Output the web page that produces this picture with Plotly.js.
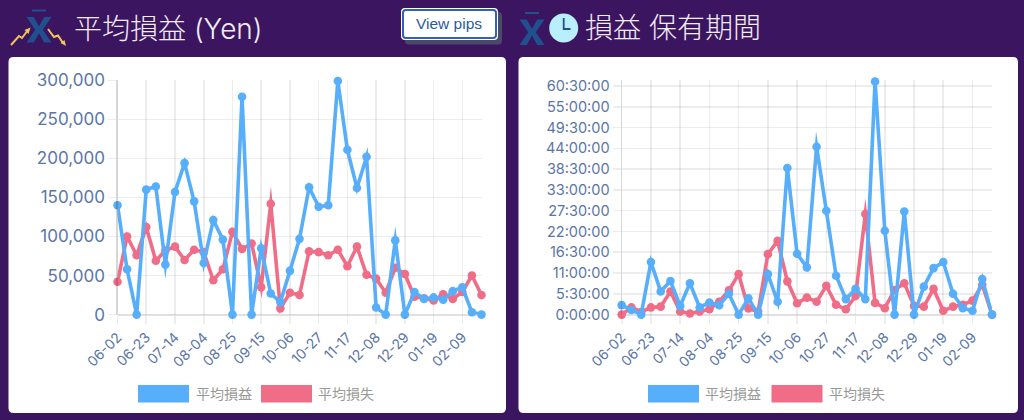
<!DOCTYPE html>
<html><head><meta charset="utf-8">
<script src="https://cdn.plot.ly/plotly-3.0.1.min.js"></script>
<style>
html,body{margin:0;padding:0;background:#3b1560;width:1024px;height:420px;overflow:hidden}
#chart{width:1024px;height:420px}
.js-line{stroke-linejoin:miter !important;stroke-miterlimit:10 !important}
</style></head><body><div id="chart"></div>
<script>
const categories=["06-02","06-09","06-16","06-23","06-30","07-07","07-14","07-21","07-28","08-04","08-11","08-18","08-25","09-01","09-08","09-15","09-22","09-29","10-06","10-13","10-20","10-27","11-03","11-10","11-17","11-24","12-01","12-08","12-15","12-22","12-29","01-05","01-12","01-19","01-26","02-02","02-09","02-16","02-23"];
const xTickLabels=["06-02","06-23","07-14","08-04","08-25","09-15","10-06","10-27","11-17","12-08","12-29","01-19","02-09"];
const yenProfit=[140000,58000,0,160000,164000,64000,157000,194000,145000,66000,121000,96000,0,279000,0,85000,27000,16000,56000,97000,163000,138000,140000,299000,211000,162000,202000,9000,0,95000,0,29000,20000,22000,19000,30000,35000,3000,0];
const yenLoss=[42000,100000,76000,112000,69000,82000,87000,70000,83000,80000,44000,58000,106000,84000,91000,35000,142000,8000,28000,25000,81000,80000,76000,83000,62000,87000,51000,46000,28000,60000,52000,23000,21000,18000,26000,20000,29000,50000,25000];
const holdProfit=[2.5,1.2,0,13.9,6.1,8.9,2.3,8.3,1.9,3.2,2.5,5.5,0,4.3,0,10.7,3.4,38.8,16.1,12.5,44.4,27.5,10.3,4.1,6.8,4.1,61.7,22.2,0,27.3,0,7.4,12.3,13.9,5.5,1.7,1.0,9.4,0];
const holdLoss=[0,1.9,0.7,1.9,2.1,6.1,0.8,0.3,0.8,1.4,3.4,6.4,10.7,1.6,0.8,16,19.5,8.8,3.0,4.5,3.4,7.6,2.6,1.4,4.9,26.6,3.1,1.7,6.5,8.3,2.3,2.1,6.8,1.0,2.1,2.6,3.7,7.9,0];
const yenTicks=[0,50000,100000,150000,200000,250000,300000];
const holdTicks=[0,5.5,11,16.5,22,27.5,33,38.5,44,49.5,55,60.5];
const holdTickLabels=["0:00:00","5:30:00","11:00:00","16:30:00","22:00:00","27:30:00","33:00:00","38:30:00","44:00:00","49:30:00","55:00:00","60:30:00"];
const seriesNames=["平均損益","平均損失"];
const titleLeft="平均損益 (Yen)", titleRight="損益 保有期間", buttonLabel="View pips";

const W=1024,H=420;
const BLUE='#57aefb',RED='#f06d88',TICK='#5a76a9',GRID='rgba(0,0,0,0.07)',NAVY='#21508f',GOLD='#eec65a';
const JP='"Noto Sans CJK JP","Noto Sans",sans-serif';
const LATIN='Inter,"Noto Sans CJK JP",sans-serif';
const px=x=>(x/W).toFixed(5), py=y=>(1-y/H).toFixed(5);
function rr(x0,y0,x1,y1,r){return `M${px(x0+r)},${py(y0)}L${px(x1-r)},${py(y0)}Q${px(x1)},${py(y0)} ${px(x1)},${py(y0+r)}L${px(x1)},${py(y1-r)}Q${px(x1)},${py(y1)} ${px(x1-r)},${py(y1)}L${px(x0+r)},${py(y1)}Q${px(x0)},${py(y1)} ${px(x0)},${py(y1-r)}L${px(x0)},${py(y0+r)}Q${px(x0)},${py(y0)} ${px(x0+r)},${py(y0)}Z`;}
function poly(p){return 'M'+p.map(q=>px(q[0])+','+py(q[1])).join('L');}
function fillS(path,c){return {type:'path',xref:'paper',yref:'paper',path,fillcolor:c,line:{width:0},layer:'below'};}
function lineS(p,c,w){return {type:'path',xref:'paper',yref:'paper',path:poly(p),line:{color:c,width:w},layer:'below'};}
function xbar(cx,t){
  const b=t+7.5,h=25.5,w=12.5,s=4.8;
  return [fillS(poly([[cx-7,t],[cx+7,t],[cx+7,t+2],[cx-7,t+2]])+'Z',NAVY),
   fillS(poly([[cx-w,b],[cx-w+s*1.5,b],[cx,b+h*0.36],[cx+w-s*1.5,b],[cx+w,b],[cx+3.8,b+h*0.5],[cx+w,b+h],[cx+w-s*1.5,b+h],[cx,b+h*0.64],[cx-w+s*1.5,b+h],[cx-w,b+h],[cx-3.8,b+h*0.5]])+'Z',NAVY)];
}
function legendItems(x1,t1,x2,t2){
  const y0=385,y1=402.5,mk=(x,c)=>fillS(poly([[x,y0],[x+51,y0],[x+51,y1],[x,y1]])+'Z',c);
  const f={family:JP,size:14,color:'#999999'};
  return {shapes:[mk(x1,BLUE),mk(x2,RED)],ann:[
    {xref:'paper',yref:'paper',x:+px(t1),y:+py(393.5),xanchor:'left',yanchor:'middle',showarrow:false,text:seriesNames[0],font:f},
    {xref:'paper',yref:'paper',x:+px(t2),y:+py(393.5),xanchor:'left',yanchor:'middle',showarrow:false,text:seriesNames[1],font:f}]};
}
const lgL=legendItems(138,194,261,316), lgR=legendItems(648,703,771.5,827);

function tr(y,c,xa,ya,name){return {type:'scatter',mode:'lines+markers',x:categories,y,name,xaxis:xa,yaxis:ya,cliponaxis:false,
  line:{color:c,width:3.6,shape:'linear'},marker:{color:c,size:8.6,line:{width:0}},hoverinfo:'x+y'};}
const data=[
 tr(yenLoss,RED,'x','y',seriesNames[1]),tr(yenProfit,BLUE,'x','y',seriesNames[0]),
 tr(holdLoss,RED,'x2','y2',seriesNames[1]),tr(holdProfit,BLUE,'x2','y2',seriesNames[0])];
function xax(l,r,anchor){return {domain:[l/W,r/W],anchor,type:'category',categoryorder:'array',categoryarray:categories,range:[0,categories.length-1],
  tickmode:'array',tickvals:xTickLabels,ticktext:xTickLabels,tickangle:-45,tickfont:{family:LATIN,size:14,color:TICK},
  showgrid:true,gridcolor:GRID,gridwidth:1.6,ticks:'outside',ticklen:8,tickcolor:GRID,tickwidth:1.6,showline:false,zeroline:false,automargin:false};}
function yax(anchor,range,tickvals,ticktext,size,fmt){const a={domain:[1-314.6/H,1-80.3/H],anchor,range,tickmode:'array',tickvals,
  tickfont:{family:LATIN,size,color:TICK},showgrid:true,gridcolor:GRID,gridwidth:1.6,ticks:'outside',ticklen:8,tickcolor:GRID,tickwidth:1.6,
  showline:true,linecolor:'rgba(0,0,0,0.16)',linewidth:1.2,zeroline:true,zerolinecolor:'rgba(0,0,0,0.12)',zerolinewidth:2.2,automargin:false};
  if(ticktext)a.ticktext=ticktext; if(fmt)a.tickformat=fmt; return a;}

const clock=[
 {type:'circle',xref:'paper',yref:'paper',x0:+px(549.2),x1:+px(578.2),y0:+py(42.5),y1:+py(13.5),fillcolor:'#b9effc',line:{width:0},layer:'below'},
 lineS([[563.7,18],[563.7,29],[570.5,29]],NAVY,1.8)];

const shapes=[
 fillS(rr(8.5,57,506,413,5),'#ffffff'),fillS(rr(518.5,57,1018,413,5),'#ffffff'),
 fillS(rr(405,12,502,44.5,4),'#4a4a68'),fillS(rr(401,8,498,40,4),'#ffffff'),
 {type:'path',xref:'paper',yref:'paper',path:rr(403,10,496,38,3),fillcolor:'#ffffff',line:{color:'#2f62b8',width:2},layer:'below'},
 ...xbar(39,9.5),...xbar(532,12),
 lineS([[11,45],[19,36],[22,38],[28,30]],GOLD,2),
 fillS(poly([[30.5,27.5],[24.5,30],[28.5,34]])+'Z',GOLD),
 lineS([[48,29],[54,37],[58,35.5],[63,43]],GOLD,2),
 fillS(poly([[66,46],[60.5,43],[64.5,40]])+'Z',GOLD),
 ...clock,...lgL.shapes,...lgR.shapes];

const annotations=[
 {xref:'paper',yref:'paper',x:+px(72.5),y:+py(29),xanchor:'left',yanchor:'middle',showarrow:false,text:titleLeft,font:{family:LATIN,size:28,color:'#f1edf5',weight:300}},
 {xref:'paper',yref:'paper',x:+px(582.5),y:+py(28),xanchor:'left',yanchor:'middle',showarrow:false,text:titleRight,font:{family:LATIN,size:28,color:'#f1edf5',weight:300}},
 {xref:'paper',yref:'paper',x:+px(449.5),y:+py(24),xanchor:'center',yanchor:'middle',showarrow:false,text:buttonLabel,font:{family:'"Liberation Sans",Arial,sans-serif',size:15.5,color:'#2d5a9c'}},
 ...lgL.ann,...lgR.ann];

Plotly.newPlot('chart',data,{width:W,height:H,margin:{l:0,r:0,t:0,b:0},paper_bgcolor:'#3b1560',plot_bgcolor:'rgba(0,0,0,0)',showlegend:false,
 font:{family:JP},
 xaxis:xax(117.5,481.5,'y'),yaxis:yax('x',[0,300000],yenTicks,null,17,',d'),
 xaxis2:xax(621.7,992,'y2'),yaxis2:yax('x2',[0,62],holdTicks,holdTickLabels,14.5),
 shapes,annotations},{displayModeBar:false,staticPlot:true});
</script></body></html>
